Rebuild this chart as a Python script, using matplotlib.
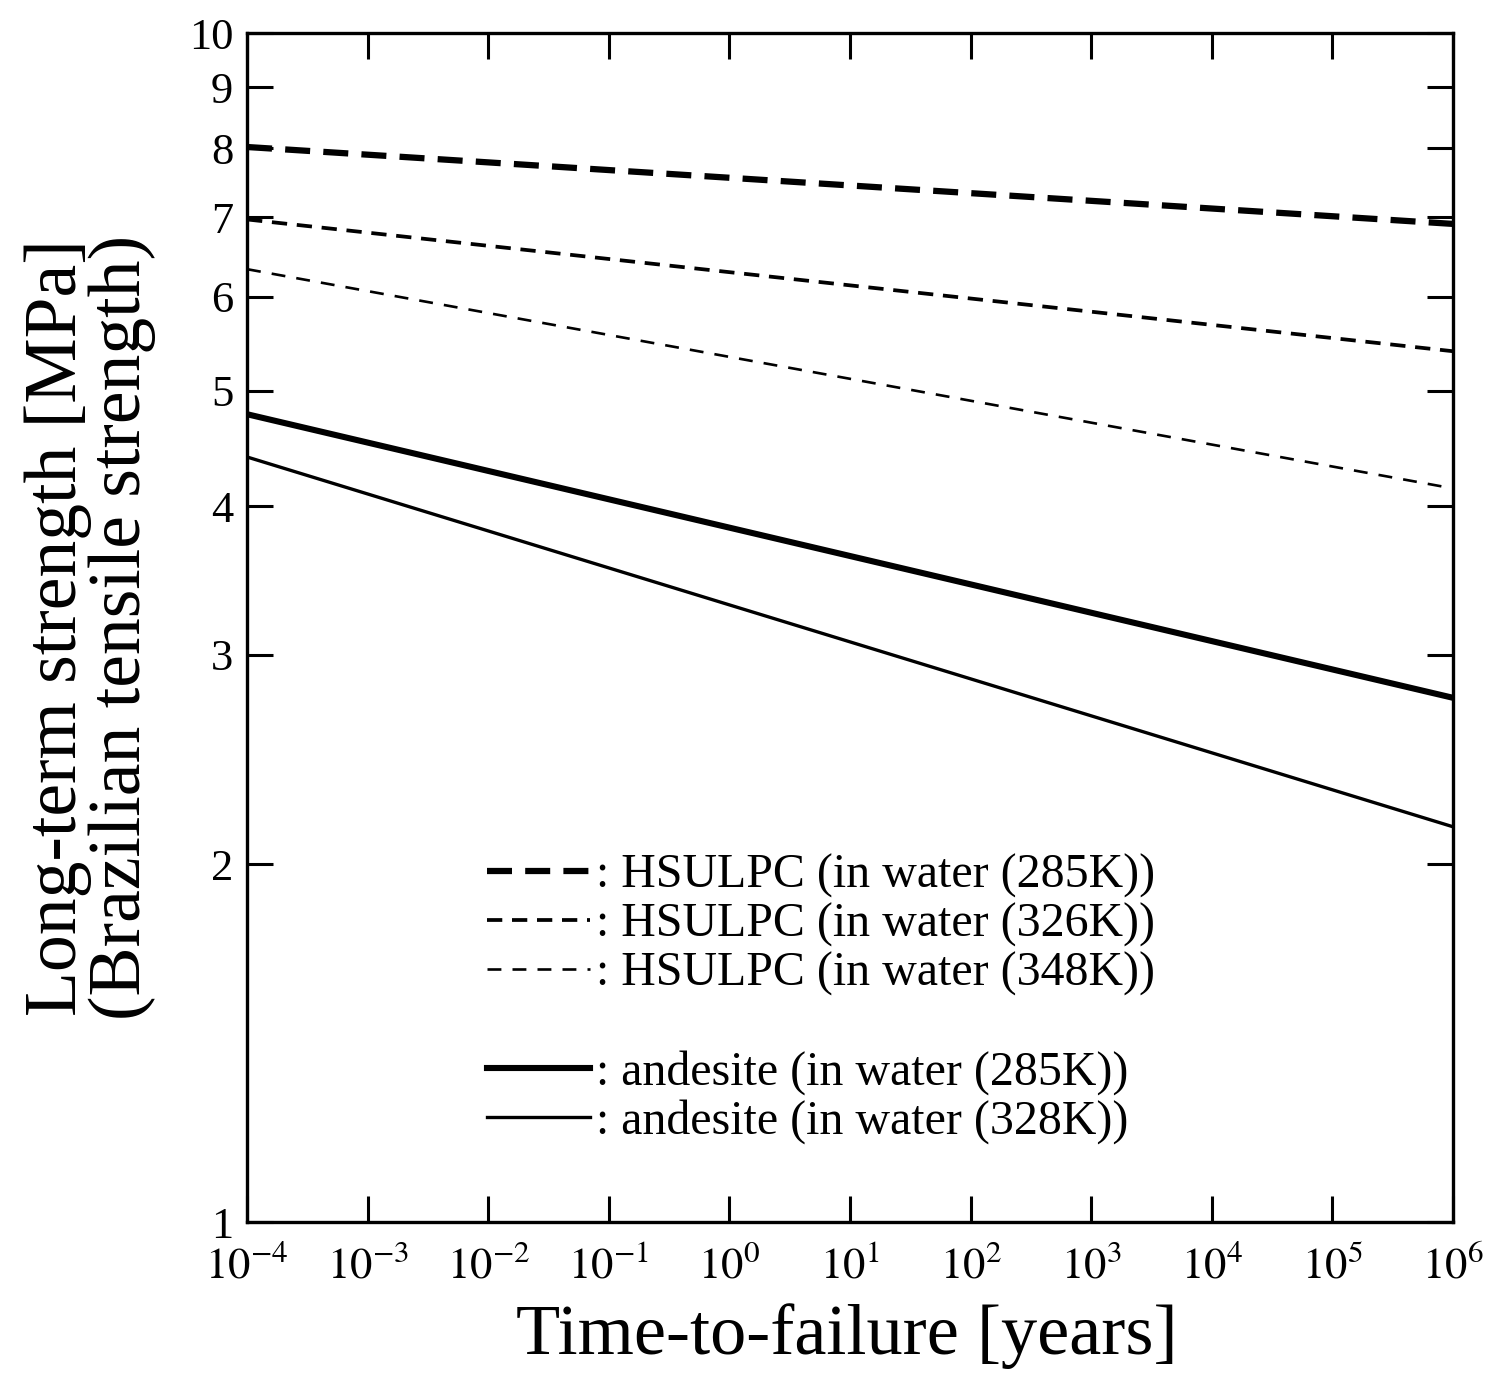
import matplotlib
matplotlib.use("Agg")
import matplotlib.pyplot as plt
from matplotlib.lines import Line2D
from matplotlib.ticker import FixedLocator, FixedFormatter, NullLocator

plt.rcParams['font.family'] = ['Liberation Serif', 'DejaVu Serif']
plt.rcParams['mathtext.fontset'] = 'stix'
plt.rcParams['lines.scale_dashes'] = False

# Data (time-to-failure in years, strength in MPa)
time_years = [1e-4, 1e6]
hsulpc_285 = [8.02, 6.91]
hsulpc_326 = [6.97, 5.40]
hsulpc_348 = [6.33, 4.14]
andesite_285 = [4.78, 2.76]
andesite_328 = [4.40, 2.15]

labels = [": HSULPC (in water (285K))",
          ": HSULPC (in water (326K))",
          ": HSULPC (in water (348K))",
          ": andesite (in water (285K))",
          ": andesite (in water (328K))"]

x_exponents = [-4, -3, -2, -1, 0, 1, 2, 3, 4, 5, 6]
y_ticks = [1, 2, 3, 4, 5, 6, 7, 8, 9, 10]

fig = plt.figure(figsize=(15.12, 13.89), dpi=100)
ax = fig.add_axes([0.1634, 0.1202, 0.7976, 0.856])

l1, = ax.plot(time_years, hsulpc_285, color='black', lw=4.5, dashes=(18, 9.5))
l2, = ax.plot(time_years, hsulpc_326, color='black', lw=2.7, dashes=(11, 7))
l3, = ax.plot(time_years, hsulpc_348, color='black', lw=1.9, dashes=(10, 8))
l4, = ax.plot(time_years, andesite_285, color='black', lw=4.4)
l5, = ax.plot(time_years, andesite_328, color='black', lw=2.4)

ax.set_xscale('log')
ax.set_yscale('log')
ax.set_xlim(1e-4, 1e6)
ax.set_ylim(1, 10)

ax.xaxis.set_major_locator(FixedLocator([10.0**e for e in x_exponents]))
ax.xaxis.set_major_formatter(FixedFormatter([r'$10^{%d}$' % e for e in x_exponents]))
ax.xaxis.set_minor_locator(NullLocator())
ax.yaxis.set_major_locator(FixedLocator(y_ticks))
ax.yaxis.set_major_formatter(FixedFormatter([str(v) for v in y_ticks]))
ax.yaxis.set_minor_locator(NullLocator())

ax.tick_params(axis='both', which='major', direction='in', length=19, width=2.2,
               top=True, right=True)
ax.tick_params(axis='x', pad=17, labelsize=32)
ax.tick_params(axis='y', pad=10, labelsize=32)
for s in ax.spines.values():
    s.set_linewidth(2.4)

ax.set_xlabel('Time-to-failure [years]', fontsize=52)
ax.xaxis.label.set_va('center')
ax.xaxis.set_label_coords(0.497, -0.096)
ax.set_ylabel('Long-term strength [MPa]\n(Brazilian tensile strength)', fontsize=53,
              linespacing=0.92)
ax.yaxis.label.set_va('center')
ax.yaxis.set_label_coords(-0.13, 0.5)

blank = Line2D([], [], color='none')
handles = [l1, l2, l3, blank, l4, l5]
leg_labels = labels[:3] + [' '] + labels[3:]
ax.legend(handles, leg_labels, loc='center left', bbox_to_anchor=(0.199, 0.1876),
          frameon=False, fontsize=34.5, handlelength=2.15, handletextpad=0.12,
          labelspacing=0.1, borderaxespad=0, borderpad=0)

fig.savefig('out.png', dpi=100)
